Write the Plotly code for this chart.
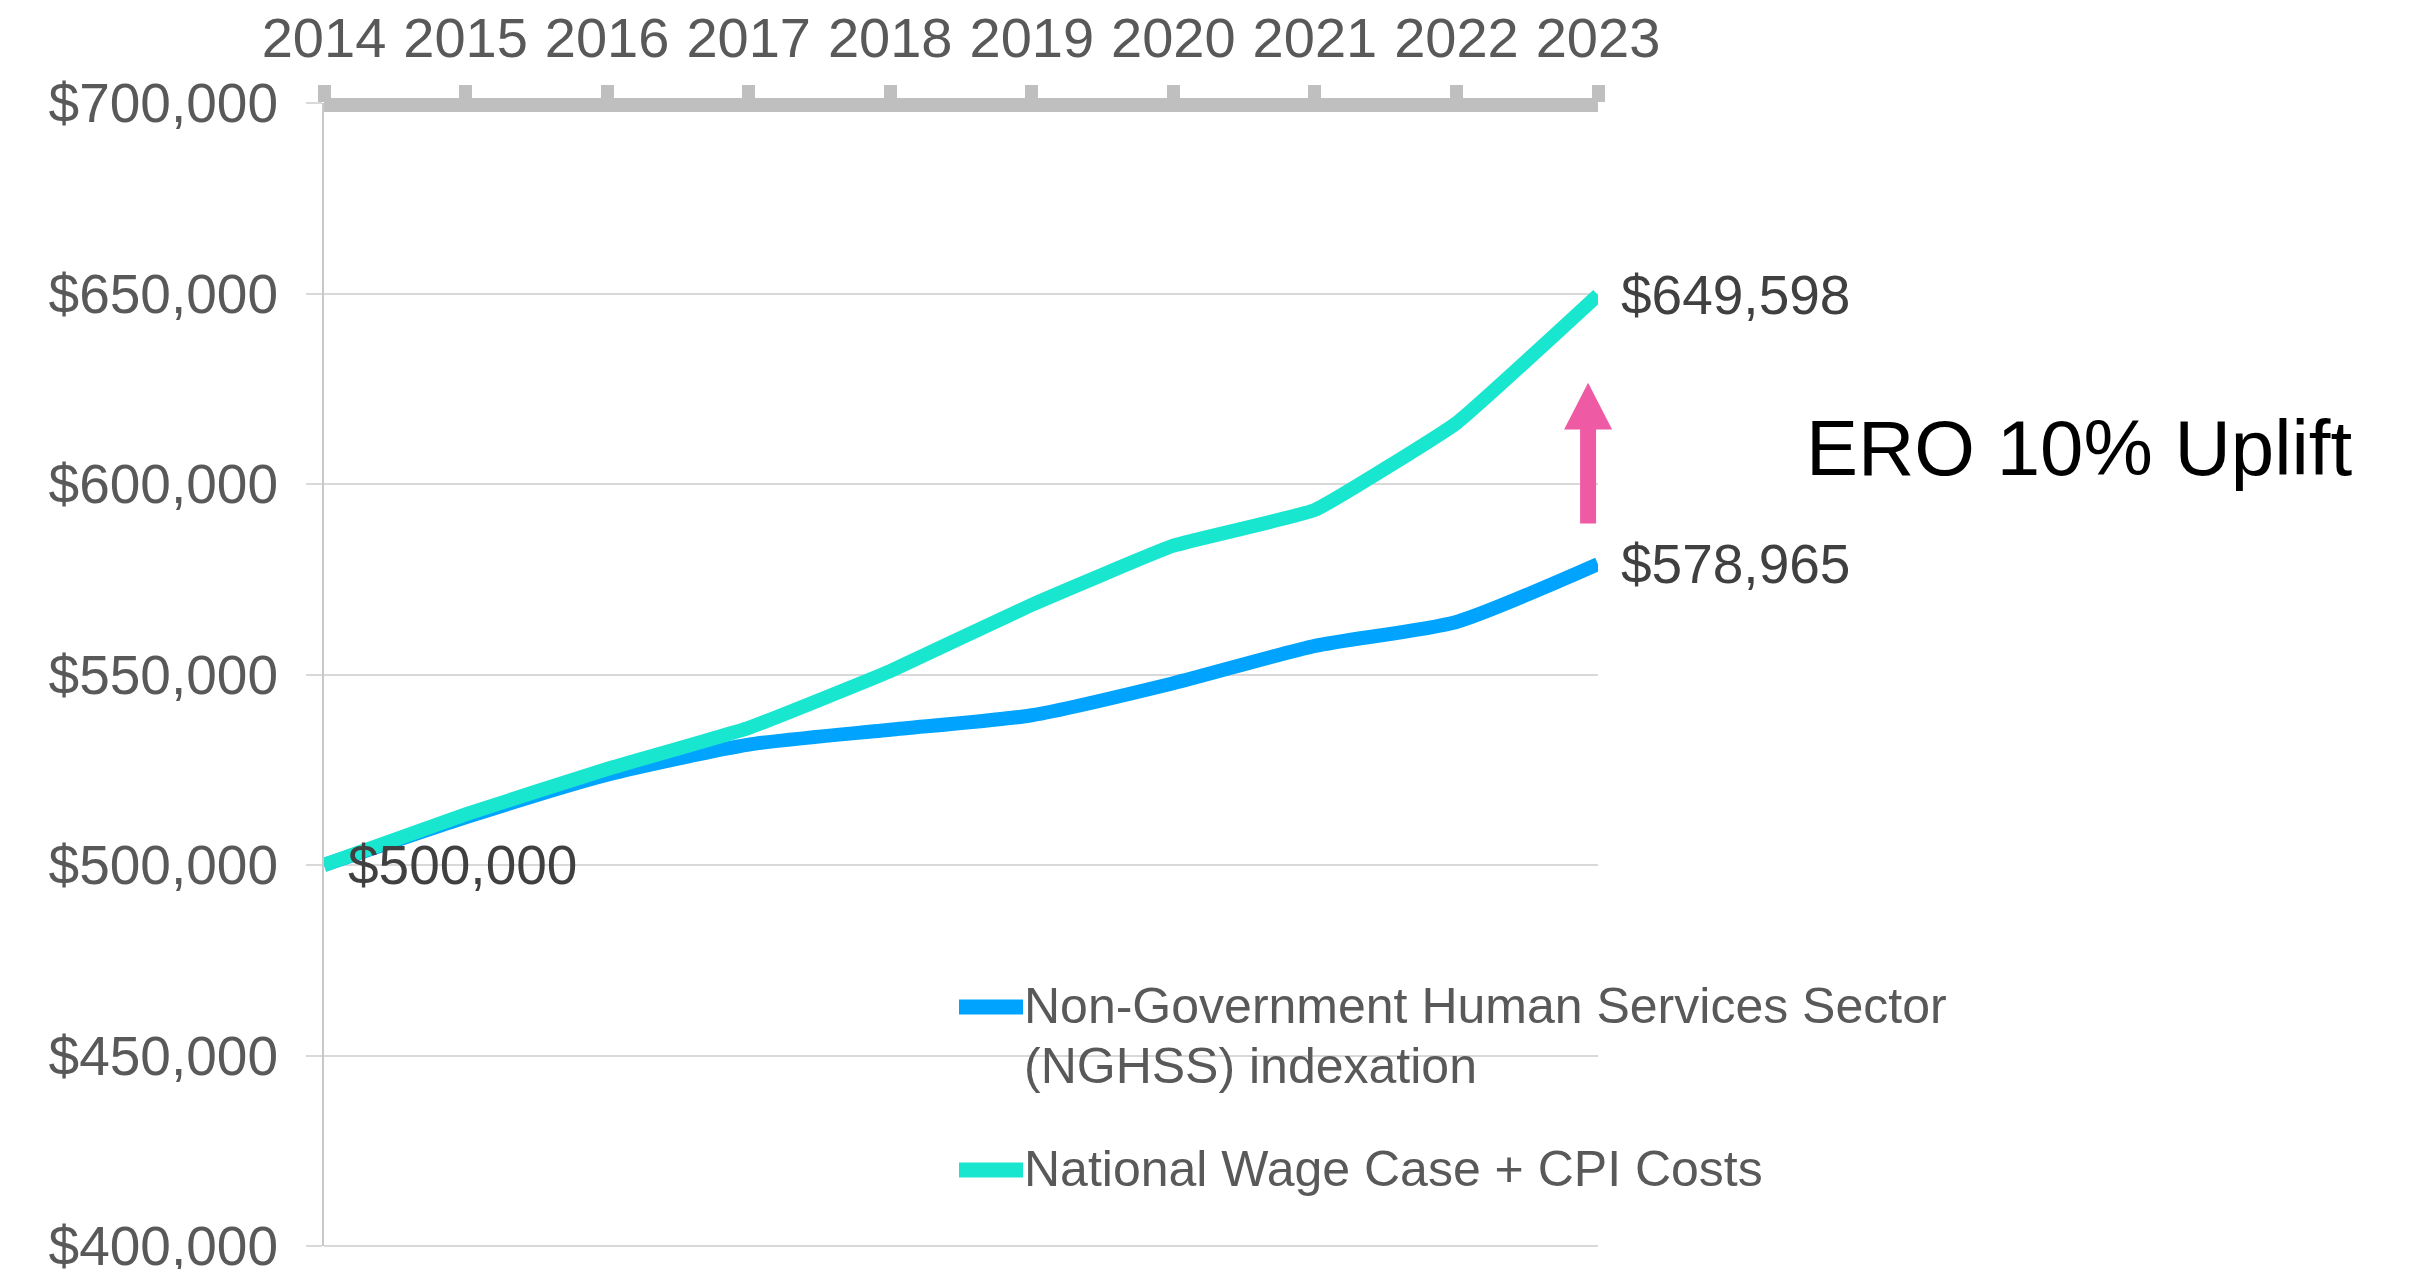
import plotly.graph_objects as go

# ---- data -------------------------------------------------------------
years = [2014, 2015, 2016, 2017, 2018, 2019, 2020, 2021, 2022, 2023]
year_labels = [str(y) for y in years]

nghss_indexation = [500000, 512500, 523700, 531600, 535500,
                    539300, 547700, 557500, 563800, 578965]
wage_case_cpi = [500000, 513300, 525200, 536000, 550900,
                 568300, 583800, 593200, 616000, 649598]

y_tick_values = [400000, 450000, 500000, 550000, 600000, 650000, 700000]
y_tick_labels = ["$400,000", "$450,000", "$500,000", "$550,000",
                 "$600,000", "$650,000", "$700,000"]

series_names = ["Non-Government Human Services Sector (NGHSS) indexation",
                "National Wage Case + CPI Costs"]
legend_lines = [["Non-Government Human Services Sector", "(NGHSS) indexation"],
                ["National Wage Case + CPI Costs"]]
uplift_text = "ERO 10% Uplift"

# ---- styling ----------------------------------------------------------
W, H = 2418, 1269
ML, MR, MT, MB = 324, 820, 103, 23
PW, PH = W - ML - MR, H - MT - MB

BLUE = "#00A3FE"
TEAL = "#19E6CF"
PINK = "#EE5BA4"
GRID = "#D9D9D9"
RULE = "#BFBFBF"
TICK_TEXT = "#595959"
LABEL_TEXT = "#404040"
FONT = "Liberation Sans, Arial, sans-serif"

X_RANGE = [years[0], years[-1]]
Y_RANGE = [400000, 700000]


def px_x(px):
    """Page pixel column -> paper x."""
    return (px - ML) / PW


def px_y(py):
    """Page pixel row -> paper y."""
    return (H - MB - py) / PH


def data_x(v):
    return (v - X_RANGE[0]) / (X_RANGE[1] - X_RANGE[0])


def data_y(v):
    return (v - Y_RANGE[0]) / (Y_RANGE[1] - Y_RANGE[0])


fig = go.Figure()

fig.add_trace(go.Scatter(
    x=years, y=nghss_indexation, name=series_names[0], mode="lines",
    line=dict(color=BLUE, width=14, shape="spline", smoothing=0.6),
    showlegend=False,
))
fig.add_trace(go.Scatter(
    x=years, y=wage_case_cpi, name=series_names[1], mode="lines",
    line=dict(color=TEAL, width=14, shape="spline", smoothing=0.3),
    showlegend=False,
))

# value labels at the start and end of the lines
value_labels = [
    (years[0], nghss_indexation[0], 22),
    (years[-1], wage_case_cpi[-1], 21),
    (years[-1], nghss_indexation[-1], 21),
]
for xv, yv, shift in value_labels:
    fig.add_annotation(
        x=xv, y=yv, xref="x", yref="y", text=f"${yv:,.0f}",
        showarrow=False, xanchor="left", yanchor="middle", xshift=shift,
        font=dict(family=FONT, size=55, color=LABEL_TEXT),
    )

# bottom gridline at the foot of the value range
fig.add_shape(type="line", xref="paper", yref="paper", x0=0, x1=1,
              y0=data_y(Y_RANGE[0]), y1=data_y(Y_RANGE[0]),
              line=dict(color=GRID, width=2), layer="below")

# thick top axis rule
fig.add_shape(type="line", xref="paper", yref="paper", x0=0, x1=1,
              y0=px_y(105), y1=px_y(105),
              line=dict(color=RULE, width=14), layer="above")

# uplift arrow between the two end values
arrow_x = data_x(2022.93)
shaft = 8 / PW
head = 24 / PW
y_bot, y_neck, y_tip = data_y(589600), data_y(614300), data_y(626600)
arrow_path = (
    f"M{arrow_x - shaft},{y_bot} L{arrow_x + shaft},{y_bot} "
    f"L{arrow_x + shaft},{y_neck} L{arrow_x + head},{y_neck} "
    f"L{arrow_x},{y_tip} L{arrow_x - head},{y_neck} "
    f"L{arrow_x - shaft},{y_neck} Z"
)
fig.add_shape(type="path", xref="paper", yref="paper", path=arrow_path,
              fillcolor=PINK, line=dict(width=0), layer="above")

fig.add_annotation(
    x=px_x(1804), y=px_y(448), xref="paper", yref="paper", text=uplift_text,
    showarrow=False, xanchor="left", yanchor="middle",
    font=dict(family=FONT, size=78, color="#000000"),
)

# legend, drawn as key swatches plus text rows
legend_rows = [(BLUE, 1007, [1006, 1066]), (TEAL, 1170, [1169])]
for (color, sy, rows), lines in zip(legend_rows, legend_lines):
    fig.add_shape(type="line", xref="paper", yref="paper",
                  x0=px_x(959), x1=px_x(1023), y0=px_y(sy), y1=px_y(sy),
                  line=dict(color=color, width=15), layer="above")
    for ry, txt in zip(rows, lines):
        fig.add_annotation(
            x=px_x(1022), y=px_y(ry), xref="paper", yref="paper", text=txt,
            showarrow=False, xanchor="left", yanchor="middle",
            font=dict(family=FONT, size=50, color=TICK_TEXT),
        )

fig.update_xaxes(
    side="top", range=X_RANGE, tickmode="array", tickvals=years,
    ticktext=year_labels, ticks="outside", ticklen=17, tickwidth=13,
    tickcolor=RULE, showline=False, showgrid=False, zeroline=False,
    tickfont=dict(family=FONT, size=56, color=TICK_TEXT),
    ticklabelstandoff=6, automargin=False, ticklabeloverflow="allow",
)
fig.update_yaxes(
    range=Y_RANGE, tickmode="array", tickvals=y_tick_values,
    ticktext=y_tick_labels, ticks="outside", ticklen=16, tickwidth=2,
    tickcolor=GRID, showline=True, linecolor="#C8C8C8", linewidth=2,
    showgrid=True, gridcolor=GRID, gridwidth=2, zeroline=False,
    tickfont=dict(family=FONT, size=55, color=TICK_TEXT),
    ticklabelstandoff=17, automargin=False, ticklabeloverflow="allow",
)

fig.update_layout(
    width=W, height=H,
    margin=dict(l=ML, r=MR, t=MT, b=MB, pad=0, autoexpand=False),
    paper_bgcolor="white", plot_bgcolor="white",
    showlegend=False,
    font=dict(family=FONT),
)

fig.write_html("out.html")
